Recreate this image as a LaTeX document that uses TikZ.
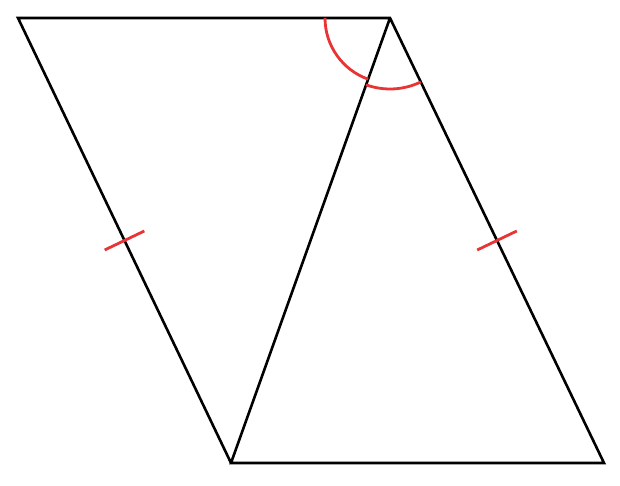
\documentclass[tikz,border=0pt]{standalone}
\usetikzlibrary{calc}
\definecolor{markred}{RGB}{232,52,52}
\tikzset{
  edge/.style={draw=black, line width=2.6pt, line join=miter},
  tickmark/.style={draw=markred, line width=2.8pt},
  anglemark/.style={draw=markred, line width=2.8pt}
}
\begin{document}
\begin{tikzpicture}[x=1pt,y=1pt]
\useasboundingbox (0,0) rectangle (620,486);
\coordinate (A) at (18,468);
\coordinate (B) at (390,468);
\coordinate (C) at (231,23);
\coordinate (D) at (604,23);
\draw[edge] (C) -- (A) -- (B) -- (D) -- (C) -- (B);
\coordinate (M1) at ($(A)!0.5!(C)$);
\coordinate (M2) at ($(B)!0.5!(D)$);
\draw[tickmark] ($(M1)!22pt!90:(C)$) -- ($(M1)!22pt!-90:(C)$);
\draw[tickmark] ($(M2)!22pt!90:(D)$) -- ($(M2)!22pt!-90:(D)$);
\draw[anglemark] ([shift={(180:65pt)}]B) arc[start angle=180, end angle=250.3, radius=65pt];
\draw[anglemark] ([shift={(250.3:71pt)}]B) arc[start angle=250.3, end angle=295.7, radius=71pt];
\end{tikzpicture}
\end{document}
